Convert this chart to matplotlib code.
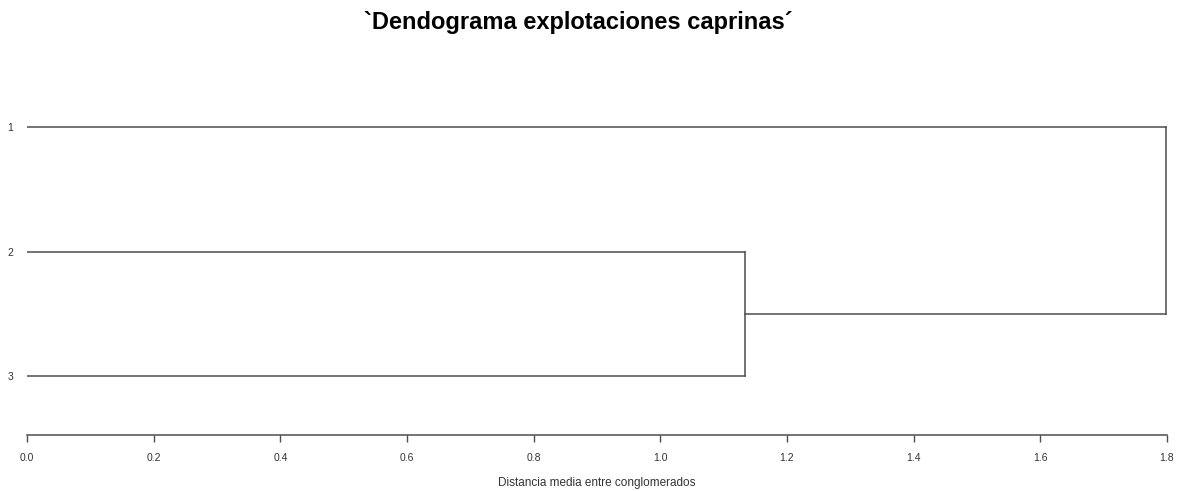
import matplotlib.pyplot as plt

# dendrogram data (average linkage): leaves and merge heights
leaf_labels = ['1', '2', '3']
leaf_pos = [1, 2, 3]
h_23 = 1.134     # merge of leaves 2 and 3
h_root = 1.798   # merge of leaf 1 with cluster (2,3)
x_ticks = [0.0, 0.2, 0.4, 0.6, 0.8, 1.0, 1.2, 1.4, 1.6, 1.8]

plt.rcParams['font.family'] = ['Liberation Sans', 'DejaVu Sans']

fig = plt.figure(figsize=(11.82, 4.91), dpi=100)
ax = fig.add_axes([27 / 1182, 56 / 491, 1140 / 1182, 370 / 491])

c = '#4d4d4d'
lw = 1.1
y1, y2, y3 = leaf_pos
y_23 = (y2 + y3) / 2

# cluster (2,3)
ax.plot([0, h_23], [y2, y2], color=c, lw=lw)
ax.plot([0, h_23], [y3, y3], color=c, lw=lw)
ax.plot([h_23, h_23], [y2, y3], color=c, lw=lw)
# root
ax.plot([h_23, h_root], [y_23, y_23], color=c, lw=lw)
ax.plot([0, h_root], [y1, y1], color=c, lw=lw)
ax.plot([h_root, h_root], [y1, y_23], color=c, lw=lw)

ax.set_xlim(0, 1.8)
ax.set_ylim(3.47, 0.5)
ax.set_xticks(x_ticks)
ax.set_xticklabels([f'{t:.1f}' for t in x_ticks], fontsize=7.5, color='#333333')
ax.set_yticks(leaf_pos)
ax.set_yticklabels(leaf_labels, fontsize=7.5, color='#333333')
ax.tick_params(axis='y', length=0, pad=10)
ax.tick_params(axis='x', length=5, width=1, color=c, pad=8)

for s in ['top', 'right', 'left']:
    ax.spines[s].set_visible(False)
ax.spines['bottom'].set_color(c)
ax.spines['bottom'].set_linewidth(1.1)

ax.set_xlabel('Distancia media entre conglomerados', fontsize=8.5, color='#333333', labelpad=10)
fig.text(578 / 1182, 1 - 22 / 491, '`Dendograma explotaciones caprinas´', fontsize=17,
         fontweight='bold', ha='center', va='center')

fig.savefig('out.png', dpi=100)
